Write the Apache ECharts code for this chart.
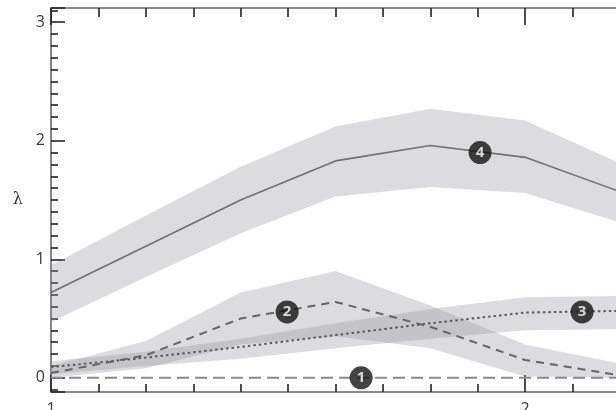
<!DOCTYPE html>
<html><head><meta charset="utf-8">
<script src="https://cdn.jsdelivr.net/npm/echarts@6/dist/echarts.min.js"></script>
<style>html,body{margin:0;padding:0;background:#fff}#c{width:616px;height:410px}</style>
</head><body><div id="c"></div>
<script>
var xs   = [1.0, 1.2, 1.4, 1.6, 1.8, 2.0, 2.2];
var s1   = [0, 0, 0, 0, 0, 0, 0];
var s2   = [0.04, 0.19, 0.50, 0.64, 0.43, 0.15, 0.02];
var s2Lo = [0.00, 0.08, 0.28, 0.35, 0.25, 0.01, 0.00];
var s2Hi = [0.10, 0.31, 0.72, 0.90, 0.61, 0.28, 0.12];
var s3   = [0.09, 0.17, 0.26, 0.36, 0.46, 0.55, 0.565];
var s3Lo = [0.03, 0.10, 0.16, 0.25, 0.33, 0.40, 0.41];
var s3Hi = [0.14, 0.22, 0.33, 0.46, 0.58, 0.68, 0.69];
var s4   = [0.72, 1.11, 1.50, 1.83, 1.96, 1.86, 1.57];
var s4Lo = [0.47, 0.85, 1.22, 1.53, 1.61, 1.56, 1.31];
var s4Hi = [0.95, 1.37, 1.78, 2.12, 2.27, 2.17, 1.81];
var labelText = ['1', '2', '3', '4'];
var labelX = [1.654, 1.498, 2.12, 1.905];
var labelY = [0.0, 0.556, 0.556, 1.90];
var yTicks = ['0', '1', '2', '3'];
var xTicks = ['1', '2'];

function pts(v){ return xs.map(function(x,i){ return [x, v[i]]; }); }

var bandColor = 'rgba(150,150,155,0.33)';
function band(lo, hi){
  return {
    type:'custom', z:1, silent:true,
    data: xs.map(function(x,i){ return [x, lo[i], hi[i]]; }),
    renderItem: function(params, api){
      if (params.dataIndex !== 0) return null;
      var p = [];
      for (var i=0;i<xs.length;i++) p.push(api.coord([xs[i], hi[i]]));
      for (var j=xs.length-1;j>=0;j--) p.push(api.coord([xs[j], lo[j]]));
      return {type:'polygon', shape:{points:p}, style:{fill:bandColor, stroke:null}};
    },
    encode:{x:0, y:[1,2]}
  };
}
var series = [band(s4Lo,s4Hi), band(s2Lo,s2Hi), band(s3Lo,s3Hi)];
series.push({type:'line', data:pts(s1), symbol:'none', z:3, lineStyle:{color:'#8a8a8a', width:2, type:[12,6]}});
series.push({type:'line', data:pts(s3), symbol:'none', z:3, lineStyle:{color:'#5a5a5a', width:2, type:[2.5,3]}});
series.push({type:'line', data:pts(s2), symbol:'none', z:3, lineStyle:{color:'#666', width:2, type:[8,6]}});
series.push({type:'line', data:pts(s4), symbol:'none', z:3, lineStyle:{color:'#707070', width:1.6}});
series.push({type:'scatter', z:5, symbol:'circle', symbolSize:23, itemStyle:{color:'#141414'},
  data: labelText.map(function(t,i){ return {value:[labelX[i], labelY[i]], name:t}; }),
  label:{show:true, position:'inside', formatter:function(p){return p.name;}, color:'#fff', fontWeight:'bold', fontSize:15, fontFamily:'Open Sans'}
});

var lineCommon = {show:true, onZero:false, lineStyle:{color:'#666', width:1.6}};

var option = {
  animation:false,
  grid:{left:51, top:8, right:-4, bottom:18, containLabel:false, outerBoundsMode:'none'},
  xAxis:[{
    type:'value', min:1, max:2.2, interval:1, position:'bottom',
    axisLine:lineCommon, axisTick:{inside:true, length:17, lineStyle:{color:'#222', width:1.6}},
    minorTick:{show:true, splitNumber:10, length:8, lineStyle:{color:'#222', width:1.6}}, splitLine:{show:false},
    axisLabel:{margin:9, fontSize:16, color:'#3a3a3a', fontFamily:'Open Sans', showMaxLabel:false,
      formatter:function(v){ var i = Math.round(v)-1; return xTicks[i] !== undefined && Math.abs(v-Math.round(v))<1e-6 ? xTicks[i] : ''; }}
  },{
    type:'value', min:1, max:2.2, interval:1, position:'top',
    axisLine:lineCommon, axisTick:{inside:true, length:17, lineStyle:{color:'#222', width:1.6}},
    minorTick:{show:true, splitNumber:10, length:9, lineStyle:{color:'#222', width:1.6}},
    splitLine:{show:false}, axisLabel:{show:false}
  }],
  yAxis:{
    type:'value', min:-0.12, max:3.12, minInterval:1, maxInterval:1, splitNumber:3,
    name:'λ', nameLocation:'middle', nameRotate:0, nameGap:28,
    nameTextStyle:{fontSize:16, color:'#333', fontFamily:'DejaVu Serif'},
    axisLine:lineCommon, axisTick:{inside:true, length:14, lineStyle:{color:'#222', width:1.6}},
    minorTick:{show:true, splitNumber:10, length:7, lineStyle:{color:'#222', width:1.6}},
    splitLine:{show:false},
    axisLabel:{margin:6, fontSize:16, color:'#3a3a3a', fontFamily:'Open Sans', showMinLabel:false, showMaxLabel:false,
      formatter:function(v){ var i=Math.round(v); return (Math.abs(v-i)<1e-6 && yTicks[i]!==undefined) ? yTicks[i] : ''; }}
  },
  series:series
};
var chart = echarts.init(document.getElementById('c'), null, {renderer:'canvas'});
chart.setOption(option);
</script>
</body></html>
